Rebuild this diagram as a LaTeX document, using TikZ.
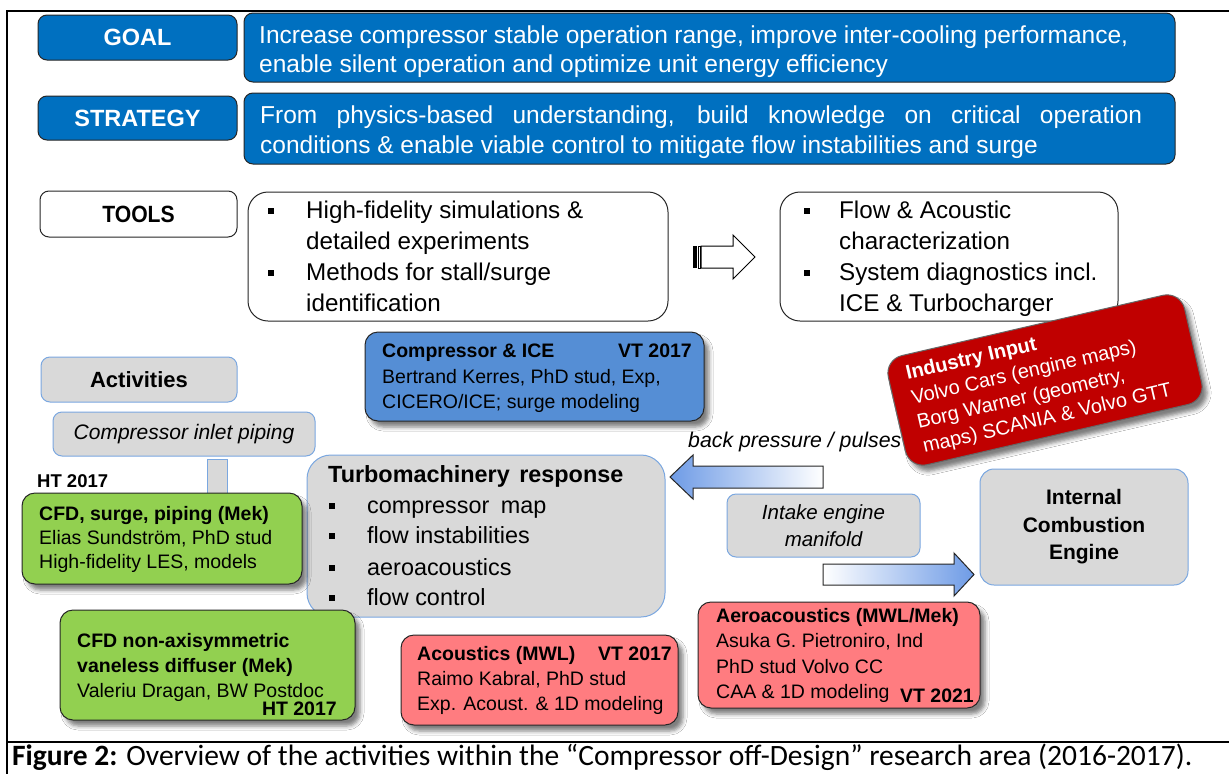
\documentclass[tikz,border=0pt]{standalone}
\usepackage{fontspec}
\setmainfont{Liberation Sans}
\newfontfamily\capfont{Carlito}
\usetikzlibrary{shadows,shadows.blur}
\newcommand\myfs[2]{\fontsize{#1}{#2}\selectfont}
\definecolor{topblue}{HTML}{0070C0}
\definecolor{boxgray}{HTML}{D9D9D9}
\definecolor{edgeblue}{HTML}{7AA7E0}
\definecolor{iceblue}{HTML}{558ED5}
\definecolor{grn}{HTML}{92D050}
\definecolor{pink}{HTML}{FF7C80}
\definecolor{indred}{HTML}{C00000}
\definecolor{arrblue}{HTML}{6E9BE6}
\tikzset{
  box/.style={inner sep=0pt, line width=1pt},
  topbox/.style={box, draw=black!85, fill=topblue, rounded corners=9pt},
  whitebox/.style={box, draw=black!85, fill=white, rounded corners=9pt},
  toolbox/.style={box, draw=black!85, fill=white, rounded corners=20pt},
  graybox/.style={box, draw=edgeblue, fill=boxgray, rounded corners=9pt},
  shad/.style={blur shadow={shadow xshift=5pt, shadow yshift=-6pt, shadow blur radius=4pt, shadow opacity=50}},
  actbox/.style={box, draw=black!85, shad, rounded corners=13pt},
  ln/.style={anchor=base west, inner sep=0pt},
  lne/.style={anchor=base east, inner sep=0pt},
  big/.style={font=\myfs{24.5}{29}},
  tool/.style={font=\myfs{24.2}{29}},
  tur/.style={font=\myfs{23.4}{28}},
  mid/.style={font=\myfs{19.5}{24}},
  midb/.style={font=\myfs{19.5}{24}\bfseries},
}
\newcommand\blt{\makebox[38pt][l]{\rule[4pt]{6pt}{6pt}}}
\newcommand\bltb{\makebox[35pt][l]{\rule[4pt]{6pt}{6pt}}}
\begin{document}
\begin{tikzpicture}[x=1pt,y=-1pt]
\useasboundingbox (0,0) rectangle (1229,774);
\fill[white] (0,0) rectangle (1229,774);
% frame
\draw[line width=2pt] (1229,11) -- (7,11) -- (7,774);
\draw[line width=2pt] (7,742) -- (1229,742);

% GOAL / STRATEGY
\node[topbox, minimum width=199pt, minimum height=45pt, text=white, font=\myfs{23.5}{28}\bfseries] (goalL) at (137.5,37.5) {GOAL};
\node[topbox, minimum width=931pt, minimum height=69pt] (goalT) at (709.5,47.5) {};
\node[ln, big, text=white] (g1) at (259,43) {\makebox[869pt][s]{Increase compressor stable operation range, improve inter-cooling performance,}};
\node[ln, big, text=white] (g2) at (259,72) {enable silent operation and optimize unit energy efficiency};
\node[topbox, minimum width=199pt, minimum height=44pt, text=white, font=\myfs{23.5}{28}\bfseries] (stratL) at (137.5,118) {STRATEGY};
\node[topbox, minimum width=931pt, minimum height=71pt] (stratT) at (709.5,128.5) {};
\node[ln, big, text=white] (s1) at (260,123) {\makebox[882pt][s]{From physics-based understanding, build knowledge on critical operation}};
\node[ln, big, text=white] (s2) at (260,153) {conditions \& enable viable control to mitigate flow instabilities and surge};

% TOOLS
\node[whitebox, minimum width=197pt, minimum height=46pt, font=\myfs{23.5}{28}\bfseries] (toolsL) at (138.5,214) {\scalebox{0.9}[1]{TOOLS}};
\node[toolbox, minimum width=420pt, minimum height=129pt] (toolsA) at (458,256.5) {};
\node[ln, tool] (ta1) at (268,218) {\blt High-fidelity simulations \&};
\node[ln, tool] (ta2) at (306,249) {detailed experiments};
\node[ln, tool] (ta3) at (268,280) {\blt Methods for stall/surge};
\node[ln, tool] (ta4) at (306,311) {identification};
\node[toolbox, minimum width=338pt, minimum height=129pt] (toolsB) at (949,256.5) {};
\node[ln, tool] (tb1) at (804,218) {\bltb Flow \& Acoustic};
\node[ln, tool] (tb2) at (839,249) {characterization};
\node[ln, tool] (tb3) at (804,280) {\bltb System diagnostics incl.};
\node[ln, tool] (tb4) at (839,311) {ICE \& Turbocharger};
% hollow arrow
\fill[black] (693,246) rectangle (697,268);
\draw[line width=0.8pt] (698.5,246) rectangle (700.5,268);
\draw[line width=1pt, fill=white] (701,246) -- (733,246) -- (733,235) -- (755,257) -- (733,279) -- (733,268) -- (701,268) -- cycle;

% Activities
\node[graybox, minimum width=196pt, minimum height=45pt, font=\myfs{22}{26}\bfseries] (activ) at (139,379.5) {Activities};
\node[graybox, minimum width=262pt, minimum height=44pt, font=\myfs{21}{25}\itshape] (inlet) at (184,434) {Compressor inlet piping};
\node[box, draw=edgeblue, fill=boxgray, minimum width=20pt, minimum height=36pt] (pipe) at (217,477) {};
\node[ln, font=\myfs{18.5}{22}\bfseries] (ht1) at (37,487) {HT 2017};

% Turbomachinery response
\node[graybox, rounded corners=24pt, minimum width=358pt, minimum height=162pt] (turbo) at (486,536) {};
\node[ln, font=\myfs{23.4}{28}\bfseries] (tu0) at (328,482) {Turbomachinery\hspace{3pt} response};
\node[ln, tur] (tu1) at (329,513) {\blt compressor\hspace{5pt} map};
\node[ln, tur] (tu2) at (329,543) {\blt flow instabilities};
\node[ln, tur] (tu3) at (329,575) {\blt aeroacoustics};
\node[ln, tur] (tu4) at (329,605) {\blt flow control};

% green 1
\node[actbox, fill=grn, minimum width=280pt, minimum height=91pt] (green1) at (162,538.5) {};
\node[ln, midb] (gr1a) at (39,520) {CFD, surge, piping (Mek)};
\node[ln, mid] (gr1b) at (39,544) {Elias Sundström, PhD stud};
\node[ln, mid] (gr1c) at (39,568) {High-fidelity LES, models};

% Compressor & ICE
\node[actbox, fill=iceblue, minimum width=339pt, minimum height=89pt] (cice) at (534.5,376.5) {};
\node[ln, midb] (ci1) at (382,357) {Compressor \& ICE};
\node[lne, midb] (ci1v) at (692,357) {VT 2017};
\node[ln, mid] (ci2) at (382,383) {Bertrand Kerres, PhD stud, Exp,};
\node[ln, mid] (ci3) at (382,408) {CICERO/ICE; surge modeling};

% back pressure arrow
\node[ln, font=\myfs{21.3}{25}\itshape] (bp) at (688,447) {back pressure / pulses};
\draw[line width=1pt, draw=black!85, left color=arrblue, right color=white] (670,477) -- (693,455) -- (693,466) -- (823,466) -- (823,488) -- (693,488) -- (693,499) -- cycle;
\node[graybox, minimum width=193pt, minimum height=63pt, align=center, font=\myfs{20.5}{27}\itshape] (intake) at (823.5,525.5) {Intake engine\\manifold};
\draw[line width=1pt, draw=black!85, left color=white, right color=arrblue] (823,564) -- (954,564) -- (954,553) -- (974,574.5) -- (954,596) -- (954,585) -- (823,585) -- cycle;
\node[graybox, rounded corners=14pt, minimum width=208pt, minimum height=116pt, align=center, font=\myfs{21}{27.5}\bfseries] (ice) at (1084,527) {Internal\\Combustion\\Engine};

% Industry input
\begin{scope}[shift={(1045,380)}, rotate=13]
\node[box, draw=black!60, fill=indred, rotate=13, rounded corners=18pt, minimum width=304pt, minimum height=112pt, shad] (indus) at (0,0) {};
\node[ln, rotate=13, text=white, font=\myfs{20}{24}\bfseries] (in1) at (-134,-31) {Industry Input};
\node[ln, rotate=13, text=white, font=\myfs{20}{24}] (in2) at (-134,-6) {Volvo Cars (engine maps)};
\node[ln, rotate=13, text=white, font=\myfs{20}{24}] (in3) at (-134,19) {Borg Warner (geometry,};
\node[ln, rotate=13, text=white, font=\myfs{20}{24}] (in4) at (-134,44) {maps) SCANIA \& Volvo GTT};
\end{scope}

% green 2
\node[actbox, fill=grn, minimum width=295pt, minimum height=110pt] (green2) at (207.5,665) {};
\node[ln, midb] (gr2a) at (77,647) {CFD non-axisymmetric};
\node[ln, midb] (gr2b) at (77,672) {vaneless diffuser (Mek)};
\node[ln, mid] (gr2c) at (77,697) {Valeriu Dragan, BW Postdoc};
\node[lne, midb] (gr2d) at (337,715) {HT 2017};

% Acoustics
\node[actbox, fill=pink, minimum width=277pt, minimum height=90pt] (acou) at (539.5,680) {};
\node[ln, midb] (ac1) at (417,660) {Acoustics (MWL)};
\node[lne, midb] (ac1v) at (672,660) {VT 2017};
\node[ln, mid] (ac2) at (417,685) {Raimo Kabral, PhD stud};
\node[ln, mid] (ac3) at (417,710) {Exp. Acoust. \& 1D modeling};

% Aeroacoustics
\node[actbox, fill=pink, minimum width=282pt, minimum height=106pt] (aero) at (839,655) {};
\node[ln, midb] (ae1) at (716,622) {Aeroacoustics (MWL/Mek)};
\node[ln, mid] (ae2) at (716,647) {Asuka G. Pietroniro, Ind};
\node[ln, mid] (ae3) at (716,673) {PhD stud Volvo CC};
\node[ln, mid] (ae4) at (716,698) {CAA \& 1D modeling};
\node[lne, midb] (ae5) at (974,702) {VT 2021};

% caption
\node[ln, font=\capfont\myfs{29.5}{34}] (cap) at (12,765) {\textbf{Figure 2:} Overview of the activities within the “Compressor off-Design” research area (2016-2017).};
\end{tikzpicture}
\end{document}
